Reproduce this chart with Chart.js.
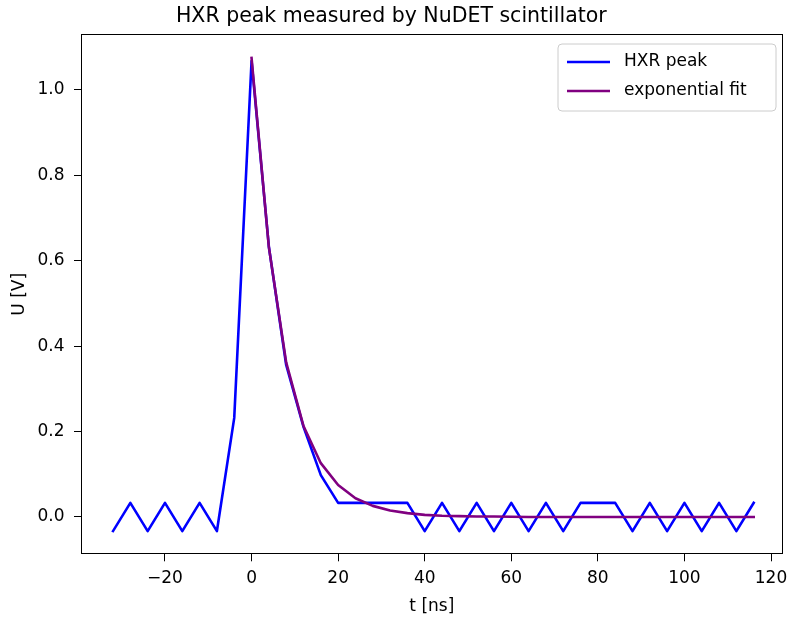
<!DOCTYPE html>
<html>
<head>
<meta charset="utf-8">
<script src="https://cdn.jsdelivr.net/npm/chart.js@4.4.1/dist/chart.umd.min.js"></script>
<style>
  html, body { margin: 0; padding: 0; background: #ffffff; }
  #wrap { width: 789px; height: 619px; }
</style>
</head>
<body>
<div id="wrap"><canvas id="c" width="789" height="619"></canvas></div>
<script>
const chartTitle = "HXR peak measured by NuDET scintillator";
const xTitle = "t [ns]";
const yTitle = "U [V]";
const seriesNames = ["HXR peak", "exponential fit"];

const tPeak = [-32,-28,-24,-20,-16,-12,-8,-4,0,4,8,12,16,20,24,28,32,36,40,44,48,52,56,60,64,68,72,76,80,84,88,92,96,100,104,108,112,116];
const uPeak = [-0.033,0.033,-0.033,0.033,-0.033,0.033,-0.033,0.232,1.068,0.633,0.356,0.211,0.098,0.033,0.033,0.033,0.033,0.033,-0.033,0.033,-0.033,0.033,-0.033,0.033,-0.033,0.033,-0.033,0.033,0.033,0.033,-0.033,0.033,-0.033,0.033,-0.033,0.033,-0.033,0.033];

const tFit = [0,4,8,12,16,20,24,28,32,36,40,44,48,52,56,60,64,68,72,76,80,84,88,92,96,100,104,108,112,116];
const uFit = [1.075,0.632,0.362,0.213,0.126,0.075,0.044,0.026,0.015,0.009,0.005,0.003,0.002,0.001,0.001,0.0005,0,0,0,0,0,0,0,0,0,0,0,0,0,0];

const xTicks = [-20,0,20,40,60,80,100,120];
const yTicks = [0.0,0.2,0.4,0.6,0.8,1.0];

const xLimits = [-39.4, 122.7];
const yLimits = [-0.0874, 1.1304];

const FONT = "'DejaVu Sans', sans-serif";

const framePlugin = {
  id: 'frame',
  afterDraw(chart) {
    const {ctx, chartArea: a} = chart;
    ctx.save();
    ctx.strokeStyle = '#000';
    ctx.lineWidth = 1;
    ctx.strokeRect(Math.round(a.left) + 0.5, Math.round(a.top) + 0.5, Math.round(a.right - a.left) - 1, Math.round(a.bottom - a.top) - 1);
    ctx.restore();
  }
};

const legendPlugin = {
  id: 'mplLegend',
  afterDraw(chart) {
    const ctx = chart.ctx;
    const ds = chart.data.datasets;
    const bx = 558, by = 44, bw = 218, bh = 67, r = 4;
    ctx.save();
    ctx.beginPath();
    ctx.moveTo(bx + r, by);
    ctx.lineTo(bx + bw - r, by);
    ctx.arcTo(bx + bw, by, bx + bw, by + r, r);
    ctx.lineTo(bx + bw, by + bh - r);
    ctx.arcTo(bx + bw, by + bh, bx + bw - r, by + bh, r);
    ctx.lineTo(bx + r, by + bh);
    ctx.arcTo(bx, by + bh, bx, by + bh - r, r);
    ctx.lineTo(bx, by + r);
    ctx.arcTo(bx, by, bx + r, by, r);
    ctx.closePath();
    ctx.fillStyle = 'rgba(255,255,255,0.8)';
    ctx.fill();
    ctx.strokeStyle = '#cccccc';
    ctx.lineWidth = 1;
    ctx.stroke();
    ds.forEach((d, i) => {
      const y = 62 + i * 29;
      ctx.beginPath();
      ctx.moveTo(567, y);
      ctx.lineTo(610, y);
      ctx.strokeStyle = d.borderColor;
      ctx.lineWidth = 2.6;
      ctx.stroke();
      ctx.fillStyle = '#000';
      ctx.font = '17px ' + FONT;
      ctx.textBaseline = 'middle';
      ctx.textAlign = 'left';
      ctx.fillText(d.label, 624, y);
    });
    ctx.restore();
  }
};

new Chart(document.getElementById('c'), {
  type: 'line',
  data: {
    datasets: [
      {
        label: seriesNames[0],
        data: tPeak.map((t, i) => ({x: t, y: uPeak[i]})),
        borderColor: '#0000ff',
        borderWidth: 2.6,
        pointRadius: 0,
        tension: 0,
        fill: false,
        borderJoinStyle: 'round',
        borderCapStyle: 'square',
        order: 1
      },
      {
        label: seriesNames[1],
        data: tFit.map((t, i) => ({x: t, y: uFit[i]})),
        borderColor: '#800080',
        borderWidth: 2.6,
        pointRadius: 0,
        tension: 0,
        fill: false,
        borderJoinStyle: 'round',
        borderCapStyle: 'square',
        order: 0
      }
    ]
  },
  options: {
    responsive: false,
    devicePixelRatio: 1,
    animation: false,
    layout: { padding: { left: 0, right: 6.3, top: 0, bottom: 0 } },
    plugins: {
      legend: { display: false },
      tooltip: { enabled: false },
      title: {
        display: true,
        text: chartTitle,
        color: '#000',
        font: { family: FONT, size: 20.5, weight: 'normal' },
        padding: { top: 4.5, bottom: 5.2 }
      }
    },
    scales: {
      x: {
        type: 'linear',
        min: xLimits[0],
        max: xLimits[1],
        afterBuildTicks(scale) { scale.ticks = xTicks.map(v => ({value: v})); },
        afterFit(scale) { scale.height = 64.7; scale.paddingLeft = 0; scale.paddingRight = 0; },
        grid: { display: true, drawOnChartArea: false, drawTicks: true, tickLength: 7, tickColor: '#000', tickWidth: 1 },
        border: { display: false },
        ticks: {
          color: '#000',
          font: { family: FONT, size: 17 },
          padding: 7,
          maxRotation: 0,
          autoSkip: false,
          callback: v => (v < 0 ? '\u2212' + Math.abs(v) : String(v))
        },
        title: {
          display: true,
          text: xTitle,
          color: '#000',
          font: { family: FONT, size: 17 },
          padding: { top: 0, bottom: 2.5 }
        }
      },
      y: {
        type: 'linear',
        min: yLimits[0],
        max: yLimits[1],
        afterBuildTicks(scale) { scale.ticks = yTicks.map(v => ({value: v})); },
        afterFit(scale) { scale.width = 81; scale.paddingTop = 0; scale.paddingBottom = 0; },
        grid: { display: true, drawOnChartArea: false, drawTicks: true, tickLength: 7, tickColor: '#000', tickWidth: 1 },
        border: { display: false },
        ticks: {
          color: '#000',
          font: { family: FONT, size: 17 },
          padding: 9.5,
          autoSkip: false,
          callback: v => Number(v).toFixed(1)
        },
        title: {
          display: true,
          text: yTitle,
          color: '#000',
          font: { family: FONT, size: 17 },
          padding: { top: 9, bottom: 0 }
        }
      }
    }
  },
  plugins: [framePlugin, legendPlugin]
});
</script>
</body>
</html>
